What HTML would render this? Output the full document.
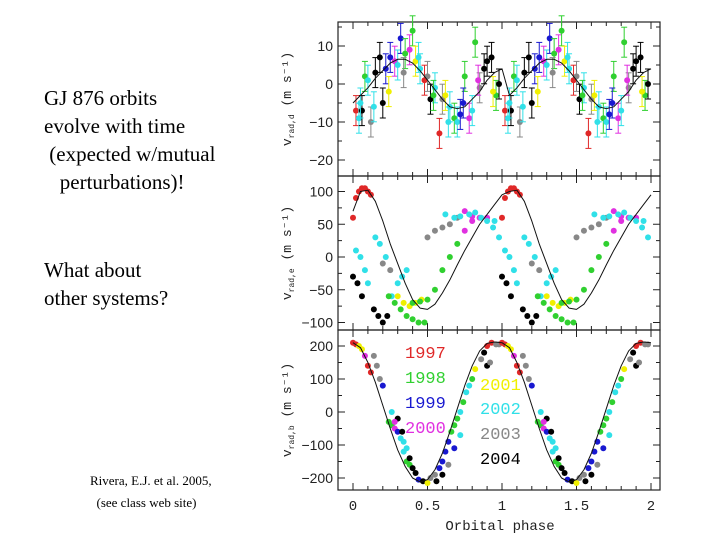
<!DOCTYPE html>
<html><head><meta charset="utf-8"><style>
body{margin:0;background:#fff;width:720px;height:540px;overflow:hidden;position:relative;font-family:"Liberation Serif",serif}
.t{position:absolute;font-size:21px;line-height:28px;color:#000;white-space:pre}
</style></head><body>
<div class="t" style="left:44px;top:84px">GJ 876 orbits
evolve with time
 (expected w/mutual
   perturbations)!</div>
<div class="t" style="left:44px;top:256px">What about
other systems?</div>
<div class="t" style="left:90px;top:470px;font-size:13px;line-height:22px">Rivera, E.J. et al. 2005,
  (see class web site)</div>
<svg id="fig" width="720" height="540" style="position:absolute;left:0;top:0"></svg>
<script>
const palette=["#e02828","#30d030","#1818d0","#e030e0","#f0f000","#30e0e8","#888888","#000000"];
const years=["1997","1998","1999","2000","2001","2002","2003","2004"];
const modelPhase=[0,0.05,0.1,0.15,0.2,0.25,0.3,0.35,0.4,0.45,0.5,0.55,0.6,0.65,0.7,0.75,0.8,0.85,0.9,0.95,1.0];
const modelD=[-5,-3,-1,1.5,3.5,5.5,6.5,6.5,5.5,3.5,1,-1.5,-4,-6,-6.5,-6,-4,-2,1,3,4];
const modelE=[70,100,102,85,55,20,-10,-40,-65,-78,-80,-72,-55,-35,-12,10,30,50,65,80,95];
const modelB=[210,195,150,90,20,-50,-115,-165,-200,-212,-205,-175,-125,-60,10,80,140,185,208,212,210];
const ptPhaseD=[0.02,0.04,0.06,0.08,0.1,0.12,0.15,0.18,0.2,0.22,0.25,0.28,0.3,0.32,0.35,0.38,0.4,0.42,0.45,0.48,0.5,0.52,0.55,0.58,0.6,0.62,0.65,0.68,0.7,0.72,0.75,0.78,0.8,0.82,0.85,0.88,0.9,0.93,0.96,0.98,0.05,0.14,0.24,0.34,0.44,0.54,0.64,0.74,0.84,0.94];
const ptValD=[-7,-9,-7,2,1,-10,3,7,-5,4,7,6,5,12,8,9,14,6,4,1,2,-4,-1,-13,-4,-3,-6,-9,-10,-8,2,-9,-7,11,-1,4,6,7,-3,0,-5,-6,-2,3,7,-3,-10,-5,1,-2];
const ptColD=[0,5,7,1,5,6,7,7,7,2,2,3,5,2,1,3,1,4,5,0,6,7,5,0,6,4,5,1,5,2,1,3,5,1,6,7,7,7,1,7,5,5,4,6,5,1,5,2,3,4];
const ptPhaseE=[0.0,0.02,0.04,0.06,0.08,0.1,0.12,0.0,0.03,0.06,0.02,0.05,0.08,0.1,0.14,0.17,0.2,0.23,0.26,0.3,0.33,0.36,0.24,0.28,0.32,0.36,0.4,0.44,0.48,0.3,0.34,0.38,0.42,0.46,0.4,0.45,0.5,0.55,0.6,0.65,0.7,0.75,0.8,0.5,0.55,0.6,0.65,0.7,0.75,0.8,0.85,0.9,0.95,0.62,0.68,0.72,0.78,0.82,0.86,0.9,0.94,0.98,0.2,0.25,0.15,0.18,0.22];
const ptValE=[60,90,100,105,105,100,95,-30,-40,-60,10,0,-20,-40,-80,-90,-100,-90,-60,-40,-30,-20,-60,-70,-80,-90,-95,-100,-100,-60,-70,-75,-70,-65,-70,-68,-65,-50,-20,0,20,40,55,30,40,45,50,60,70,62,60,60,55,65,60,62,65,68,60,55,45,30,-10,-20,30,20,0];
const ptColE=[0,0,0,0,0,0,0,7,7,7,5,5,5,5,7,7,7,7,5,5,5,5,1,1,1,1,1,1,1,4,4,4,4,4,1,1,1,1,1,1,1,3,3,6,6,6,6,6,3,3,3,3,5,5,5,5,5,5,5,5,5,5,6,6,5,5,5];
const ptPhaseB=[0.0,0.02,0.04,0.06,0.08,0.1,0.12,0.14,0.16,0.18,0.2,0.24,0.26,0.28,0.3,0.32,0.34,0.36,0.38,0.4,0.42,0.26,0.3,0.34,0.38,0.44,0.47,0.5,0.52,0.55,0.58,0.6,0.62,0.64,0.66,0.68,0.7,0.72,0.74,0.76,0.78,0.8,0.82,0.86,0.88,0.9,0.93,0.96,0.98,0.56,0.6,0.64,0.68,0.72,0.9,0.92,0.28,0.33,0.36];
const ptValB=[210,205,200,190,170,140,120,170,140,100,80,-30,-40,-50,-60,-80,-120,-150,-160,-170,-185,0,-20,-90,-140,-205,-210,-215,-200,-190,-170,-150,-120,-90,-60,-40,-20,0,30,60,80,100,130,160,180,200,210,205,205,-210,-190,-160,-110,-70,140,150,-30,-60,-110];
const ptColB=[0,0,4,4,3,0,0,6,6,6,2,1,1,3,2,5,5,1,1,7,7,5,7,5,7,2,7,4,6,6,2,2,2,2,1,1,1,5,1,5,5,1,4,6,7,0,0,6,6,7,7,6,2,5,7,6,3,7,5];

const svg=document.getElementById('fig');const NS="http://www.w3.org/2000/svg";
function mk(t,a,p){const e=document.createElementNS(NS,t);for(const k in a)e.setAttribute(k,a[k]);(p||svg).appendChild(e);return e;}
const X0=338,X1=660;
const xs=p=>353+p*149;
const panels=[
 {top:22,bot:176,y:v=>84-v*3.8,ticks:[10,0,-10,-20],lab:"d",mp:modelD,ph:ptPhaseD,val:ptValD,col:ptColD,err:true,mt:[-25,-20,-15,-10,-5,0,5,10,15]},
 {top:176,bot:330,y:v=>257-v*0.655,ticks:[100,50,0,-50,-100],lab:"e",mp:modelE,ph:ptPhaseE,val:ptValE,col:ptColE,err:false,mt:[-100,-75,-50,-25,0,25,50,75,100]},
 {top:330,bot:490,y:v=>412-v*0.33,ticks:[200,100,0,-100,-200],lab:"b",mp:modelB,ph:ptPhaseB,val:ptValB,col:ptColB,err:false,mt:[-200,-150,-100,-50,0,50,100,150,200]}
];
panels.forEach((P,i)=>{
 const g=mk('g',{});
 
 
 mk('rect',{x:X0,y:P.top,width:X1-X0,height:P.bot-P.top,fill:'none',stroke:'#222','stroke-width':1.2},g);
 P.mt.forEach(v=>{const yy=P.y(v);if(yy<P.top||yy>P.bot)return;const L=(P.ticks.includes(v))?7:4;
  mk('line',{x1:X0,x2:X0+L,y1:yy,y2:yy,stroke:'#222'},g);mk('line',{x1:X1,x2:X1-L,y1:yy,y2:yy,stroke:'#222'},g);});
 P.ticks.forEach(v=>{const t=mk('text',{x:333,y:P.y(v)+5,'text-anchor':'end','font-size':14,'font-family':'Liberation Sans,sans-serif',fill:'#222'},g);t.textContent=(v<0?'\u2212'+(-v):v);
  });
 for(let k=0;k<=20;k++){const xx=xs(k*0.1);const L=k%5==0?7:4;mk('line',{x1:xx,x2:xx,y1:P.bot,y2:P.bot-L,stroke:'#222'},g);mk('line',{x1:xx,x2:xx,y1:P.top,y2:P.top+L,stroke:'#222'},g);}
 const yt=mk('text',{transform:`translate(291,${(P.top+P.bot)/2}) rotate(-90)`,'text-anchor':'middle','font-size':13,'font-family':'Liberation Mono,monospace',fill:'#222'},g);
 yt.textContent='v';const s=mk('tspan',{'font-size':8,dy:3},yt);s.textContent='rad,'+P.lab;const s2=mk('tspan',{dy:-3},yt);s2.textContent='  (m s\u207B\u00B9)';
 
 for(let r=0;r<2;r++)P.ph.forEach((p,j)=>{const xx=xs(p+r),yy=P.y(P.val[j]);const c=palette[P.col[j]];
  if(yy<P.top||yy>P.bot)return;
  if(P.err){mk('line',{x1:xx,x2:xx,y1:yy-15,y2:yy+15,stroke:c,'stroke-width':1},g);mk('line',{x1:xx-3,x2:xx+3,y1:yy-15,y2:yy-15,stroke:c},g);mk('line',{x1:xx-3,x2:xx+3,y1:yy+15,y2:yy+15,stroke:c},g);}
  const d=mk('circle',{cx:xx,cy:yy,r:3,fill:c},g);
  });
 let pts=[];for(let r=0;r<2;r++)modelPhase.forEach((p,j)=>{if(r==1&&j==0)return;pts.push(xs(p+r)+','+P.y(P.mp[j]));});
 const ml=mk('polyline',{points:pts.join(' '),fill:'none',stroke:'#111','stroke-width':1,'stroke-linejoin':'round'},g);
 
});
[0,0.5,1,1.5,2].forEach(v=>{const t=mk('text',{x:xs(v),y:510,'text-anchor':'middle','font-size':14,'font-family':'Liberation Mono,monospace',fill:'#222'});t.textContent=v;
 });
const xt=mk('text',{x:500,y:530,'text-anchor':'middle','font-size':14,'font-family':'Liberation Mono,monospace',fill:'#222'});xt.textContent='Orbital phase';

const legPos=[[405,358],[405,383],[405,408],[405,433],[480,390],[480,414],[480,439],[480,464]];
years.forEach((y,i)=>{const t=mk('text',{x:legPos[i][0],y:legPos[i][1],'font-size':17,'font-family':'Liberation Mono,monospace',fill:palette[i]});t.textContent=y;
 });
</script>
</body></html>
